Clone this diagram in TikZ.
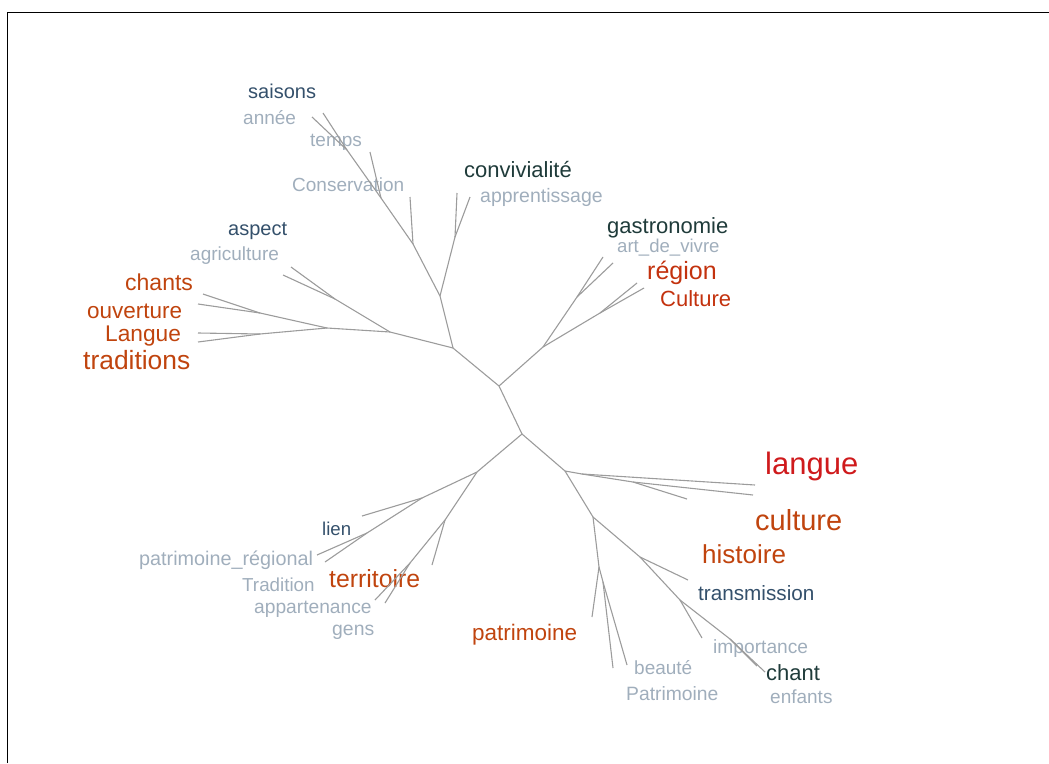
\documentclass[tikz,border=0pt]{standalone}
\usepackage{fontspec}
\setmainfont{Liberation Sans}
\usepackage{tikz}

\definecolor{pale}{HTML}{A0AEBC}
\definecolor{slate}{HTML}{34506B}
\definecolor{deepteal}{HTML}{1F3B3A}
\definecolor{rust}{HTML}{C0440E}
\definecolor{brick}{HTML}{C3320E}
\definecolor{scarlet}{HTML}{CF1A1C}
\definecolor{twig}{HTML}{9C9C9C}

\newcommand{\wsize}[1]{\fontsize{#1}{#1}\selectfont}

\tikzset{
  word/.style={anchor=base west, inner sep=0pt, yshift=-2.5pt},
  branch/.style={twig, line width=1.1pt},
}

\begin{document}
\begin{tikzpicture}[x=1pt, y=-1pt]
  \useasboundingbox (0,0) rectangle (1049,763);
  \draw[line width=1pt] (7,763) -- (7,12) -- (1049,12);

  % inner junctions
  \coordinate (A) at (499,386);
  \coordinate (B) at (522,434);
  \coordinate (C) at (453,348);
  \coordinate (D) at (543,347);
  \coordinate (D1) at (577,297);
  \coordinate (D2) at (600,313);
  \coordinate (E) at (440,296);
  \coordinate (F) at (455,237);
  \coordinate (G) at (413,244);
  \coordinate (H) at (381,198);
  \coordinate (I) at (347,150);
  \coordinate (J) at (390,332);
  \coordinate (K) at (335,299);
  \coordinate (L) at (327,328);
  \coordinate (M) at (260,313);
  \coordinate (N) at (260,334);
  \coordinate (O) at (477,472);
  \coordinate (Q) at (422,498);
  \coordinate (R) at (367,533);
  \coordinate (S) at (445,520);
  \coordinate (T) at (410,563);
  \coordinate (P) at (565,471);
  \coordinate (W) at (582,474);
  \coordinate (X) at (633,482);
  \coordinate (V) at (593,517);
  \coordinate (Y) at (599,567);
  \coordinate (Z) at (603,582);
  \coordinate (AA) at (640,557);
  \coordinate (AB) at (680,600);
  \coordinate (AC) at (730,639);

  % leaf ends
  \coordinate (tsai) at (323,113);
  \coordinate (tann) at (312,117);
  \coordinate (ttem) at (370,152);
  \coordinate (tcon) at (410,197);
  \coordinate (tviv) at (457,193);
  \coordinate (tapp) at (470,197);
  \coordinate (tgas) at (603,257);
  \coordinate (tart) at (613,263);
  \coordinate (treg) at (637,283);
  \coordinate (tcul) at (644,288);
  \coordinate (tasp) at (291,267);
  \coordinate (tagr) at (283,275);
  \coordinate (tcha) at (203,294);
  \coordinate (touv) at (198,304);
  \coordinate (tlan) at (198,333);
  \coordinate (ttra) at (198,342);
  \coordinate (tlie) at (362,516);
  \coordinate (tpat) at (317,555);
  \coordinate (ttrd) at (325,562);
  \coordinate (tter) at (432,565);
  \coordinate (tapa) at (375,600);
  \coordinate (tgen) at (385,603);
  \coordinate (tlng) at (755,485);
  \coordinate (tclt) at (753,495);
  \coordinate (this) at (687,499);
  \coordinate (tpmo) at (592,617);
  \coordinate (tbea) at (613,668);
  \coordinate (tPat) at (627,665);
  \coordinate (ttrs) at (688,580);
  \coordinate (timp) at (702,638);
  \coordinate (tchn) at (757,666);
  \coordinate (tenf) at (765,672);

  % words
  \node[word, slate, font=\wsize{20}] (saisons) at (248,96) {saisons};
  \node[word, pale, font=\wsize{19}] (annee) at (243,122) {année};
  \node[word, pale, font=\wsize{19}] (temps) at (310,144) {temps};
  \node[word, pale, font=\wsize{19}] (conservation) at (292,189) {Conservation};
  \node[word, deepteal, font=\wsize{22}] (convivialite) at (464,175) {convivialité};
  \node[word, pale, font=\wsize{19.5}] (apprentissage) at (480,200) {apprentissage};
  \node[word, slate, font=\wsize{20}] (aspect) at (228,233) {aspect};
  \node[word, pale, font=\wsize{19}] (agriculture) at (190,258) {agriculture};
  \node[word, deepteal, font=\wsize{22}] (gastronomie) at (607,231) {gastronomie};
  \node[word, pale, font=\wsize{18.6}] (artdevivre) at (617,250) {art\_de\_vivre};
  \node[word, brick, font=\wsize{25}] (region) at (647,277) {région};
  \node[word, brick, font=\wsize{22}] (Culture) at (660,304) {Culture};
  \node[word, rust, font=\wsize{23}] (chants) at (125,288) {chants};
  \node[word, rust, font=\wsize{22.5}] (ouverture) at (87,316) {ouverture};
  \node[word, rust, font=\wsize{22.7}] (Langue) at (105,339) {Langue};
  \node[word, rust, font=\wsize{26.4}] (traditions) at (83,367) {traditions};
  \node[word, scarlet, font=\wsize{31}] (langue) at (765,472) {langue};
  \node[word, rust, font=\wsize{29}] (culture) at (755,528) {culture};
  \node[word, rust, font=\wsize{26}] (histoire) at (702,561) {histoire};
  \node[word, slate, font=\wsize{20.7}] (transmission) at (698,598) {transmission};
  \node[word, slate, font=\wsize{18.6}] (lien) at (322,533) {lien};
  \node[word, pale, font=\wsize{19.8}] (patregional) at (139,563) {patrimoine\_régional};
  \node[word, pale, font=\wsize{18.8}] (Tradition) at (242,589) {Tradition};
  \node[word, rust, font=\wsize{24.8}] (territoire) at (329,585) {territoire};
  \node[word, pale, font=\wsize{19.2}] (appartenance) at (254,611) {appartenance};
  \node[word, pale, font=\wsize{19.4}] (gens) at (332,633) {gens};
  \node[word, rust, font=\wsize{22.5}] (patrimoine) at (472,638) {patrimoine};
  \node[word, pale, font=\wsize{19.2}] (importance) at (713,651) {importance};
  \node[word, deepteal, font=\wsize{22}] (chant) at (766,678) {chant};
  \node[word, pale, font=\wsize{19}] (beaute) at (634,672) {beauté};
  \node[word, pale, font=\wsize{19.3}] (Patrimoine) at (626,698) {Patrimoine};
  \node[word, pale, font=\wsize{19}] (enfants) at (770,701) {enfants};

  % tree
  \draw[branch] (A) to (B);
  \draw[branch] (A) to (C);
  \draw[branch] (A) to (D);
  \draw[branch] (D) to (D1);
  \draw[branch] (D1) to (tgas);
  \draw[branch] (D1) to (tart);
  \draw[branch] (D) to (D2);
  \draw[branch] (D2) to (treg);
  \draw[branch] (D2) to (tcul);

  \draw[branch] (C) to (E);
  \draw[branch] (E) to (F);
  \draw[branch] (F) to (tviv);
  \draw[branch] (F) to (tapp);
  \draw[branch] (E) to (G);
  \draw[branch] (G) to (tcon);
  \draw[branch] (G) to (H);
  \draw[branch] (H) to (ttem);
  \draw[branch] (H) to (I);
  \draw[branch] (I) to (tsai);
  \draw[branch] (I) to (tann);

  \draw[branch] (C) to (J);
  \draw[branch] (J) to (K);
  \draw[branch] (K) to (tasp);
  \draw[branch] (K) to (tagr);
  \draw[branch] (J) to (L);
  \draw[branch] (L) to (M);
  \draw[branch] (M) to (tcha);
  \draw[branch] (M) to (touv);
  \draw[branch] (L) to (N);
  \draw[branch] (N) to (tlan);
  \draw[branch] (N) to (ttra);

  \draw[branch] (B) to (O);
  \draw[branch] (O) to (Q);
  \draw[branch] (Q) to (tlie);
  \draw[branch] (Q) to (R);
  \draw[branch] (R) to (tpat);
  \draw[branch] (R) to (ttrd);
  \draw[branch] (O) to (S);
  \draw[branch] (S) to (tter);
  \draw[branch] (S) to (T);
  \draw[branch] (T) to (tapa);
  \draw[branch] (T) to (tgen);

  \draw[branch] (B) to (P);
  \draw[branch] (P) to (W);
  \draw[branch] (W) to (tlng);
  \draw[branch] (W) to (X);
  \draw[branch] (X) to (tclt);
  \draw[branch] (X) to (this);
  \draw[branch] (P) to (V);
  \draw[branch] (V) to (Y);
  \draw[branch] (Y) to (tpmo);
  \draw[branch] (Y) to (Z);
  \draw[branch] (Z) to (tbea);
  \draw[branch] (Z) to (tPat);
  \draw[branch] (V) to (AA);
  \draw[branch] (AA) to (ttrs);
  \draw[branch] (AA) to (AB);
  \draw[branch] (AB) to (timp);
  \draw[branch] (AB) to (AC);
  \draw[branch] (AC) to (tchn);
  \draw[branch] (AC) to (tenf);
\end{tikzpicture}
\end{document}
